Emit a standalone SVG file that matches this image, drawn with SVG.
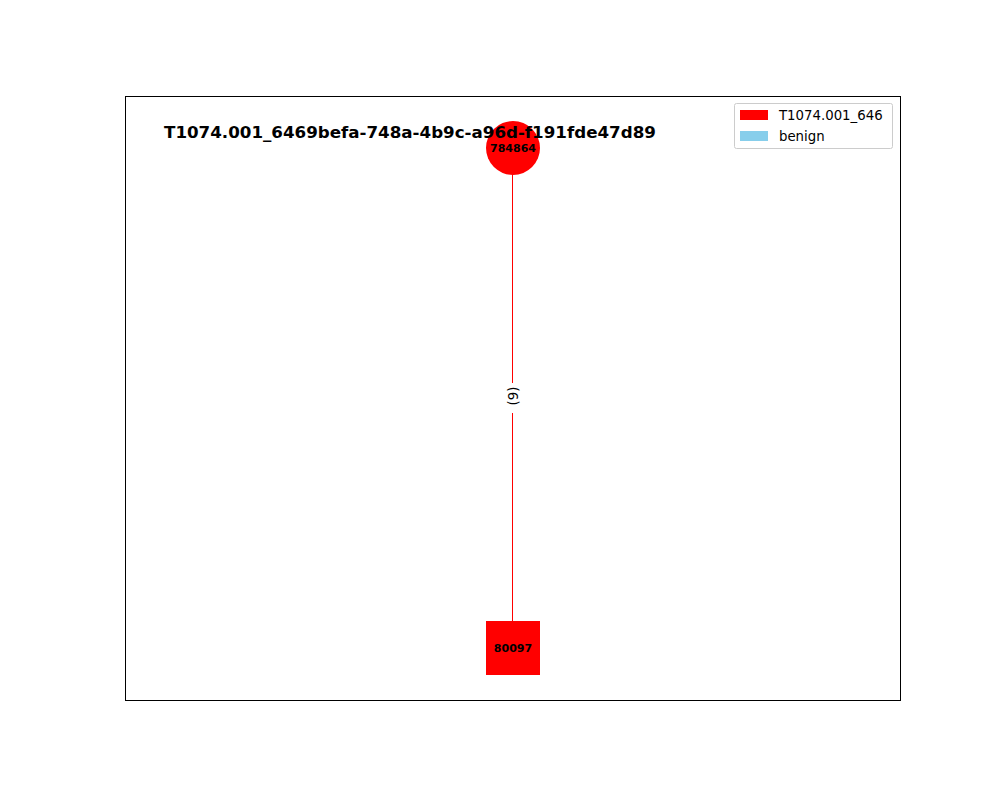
<svg xmlns="http://www.w3.org/2000/svg" width="1000" height="800" viewBox="0 0 1000 800">
<style>
text{font-family:"DejaVu Sans",sans-serif}
.nl{font-size:11px;font-weight:bold;text-anchor:middle}
.lg{font-size:13.3px}
</style>
<rect x="0" y="0" width="1000" height="800" fill="#fff"/>
<rect x="125.5" y="96.5" width="775" height="604" fill="none" stroke="#000" stroke-width="1"/>
<g id="connectors">
<line x1="512.5" y1="148" x2="512.5" y2="648" stroke="#f00" stroke-width="1"/>
<g id="edge-label">
<rect x="505" y="383" width="16" height="30" fill="#fff"/>
<text class="lg" transform="translate(517.5,396) rotate(-90)" text-anchor="middle">(9)</text>
</g>
</g>
<g id="node-784864">
<circle cx="513" cy="148" r="27" fill="#f00"/>
</g>
<g id="node-80097">
<rect x="486" y="621" width="54" height="54" fill="#f00"/>
<text class="nl" x="513" y="652">80097</text>
</g>
<text x="164" y="138" font-size="16.7px" font-weight="bold">T1074.001_6469befa-748a-4b9c-a96d-f191fde47d89</text>
<text class="nl" x="513" y="152">784864</text>
<g id="legend">
<rect x="734.5" y="103.5" width="158" height="45" rx="2" fill="#fff" fill-opacity="0.8" stroke="#ccc"/>
<rect x="740" y="110" width="28" height="10" fill="#f00"/>
<rect x="740" y="131" width="28" height="10" fill="#87ceeb"/>
<text class="lg" x="779" y="120">T1074.001_646</text>
<text class="lg" x="779" y="141">benign</text>
</g>
</svg>
